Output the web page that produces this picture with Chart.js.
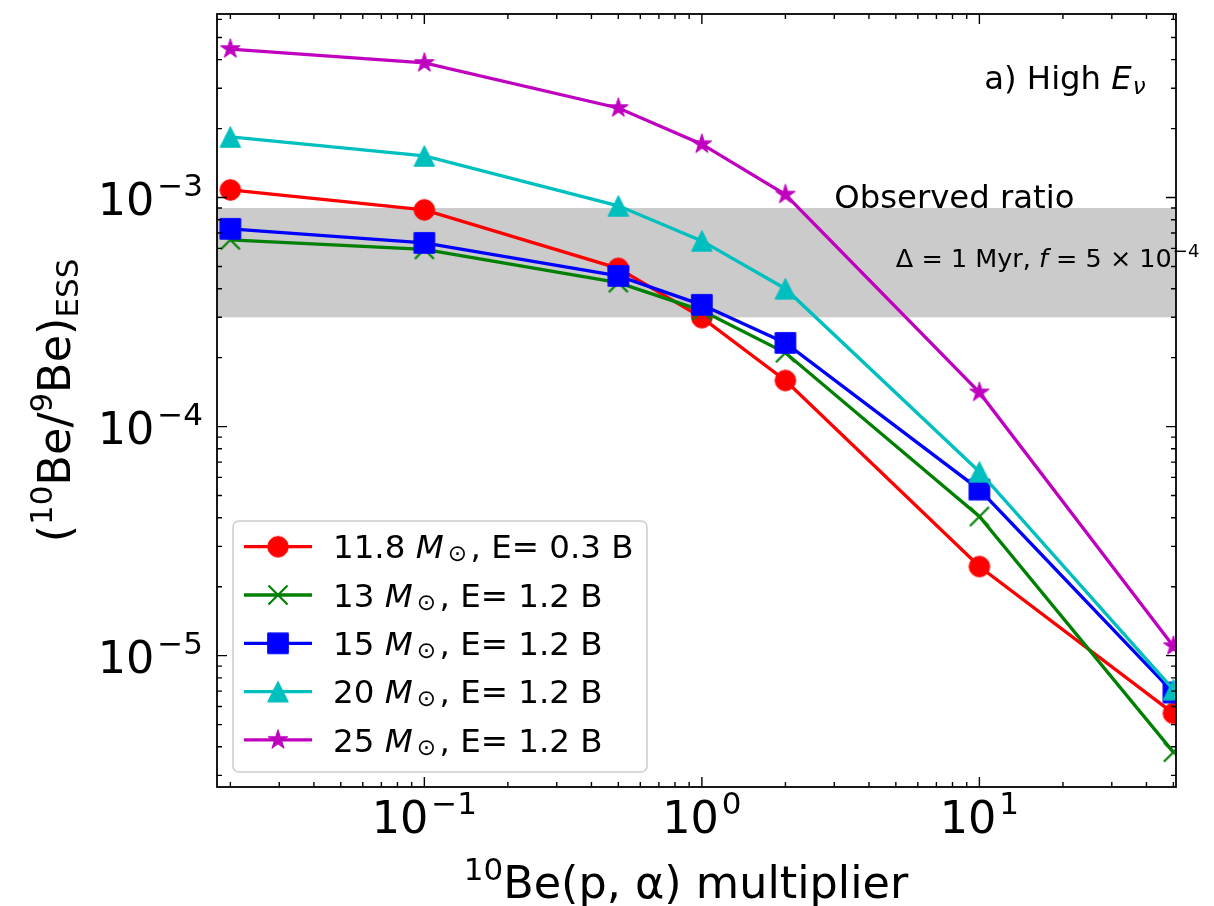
<!DOCTYPE html>
<html>
<head>
<meta charset="utf-8">
<script src="https://cdn.jsdelivr.net/npm/chart.js@4.4.0/dist/chart.umd.min.js"></script>
<style>
  body { margin: 0; background: #fff; }
  canvas { display: block; }
</style>
</head>
<body>
<canvas id="myChart" width="1214" height="906"></canvas>
<script>
// 10Be(p,alpha) rate multipliers (x) and resulting 10Be/9Be ratios per model
const multipliers = [0.02, 0.1, 0.5, 1, 2, 10, 50];
const ratio118 = [1.08e-3, 8.84e-4, 4.91e-4, 2.99e-4, 1.59e-4, 2.45e-5, 5.6e-6];
const ratio13 = [6.54e-4, 5.94e-4, 4.25e-4, 3.21e-4, 2.10e-4, 4.05e-5, 3.79e-6];
const ratio15 = [7.30e-4, 6.34e-4, 4.55e-4, 3.40e-4, 2.32e-4, 5.31e-5, 6.9e-6];
const ratio20 = [1.84e-3, 1.52e-3, 9.20e-4, 6.47e-4, 4.00e-4, 6.35e-5, 7.1e-6];
const ratio25 = [4.45e-3, 3.87e-3, 2.46e-3, 1.71e-3, 1.03e-3, 1.41e-4, 1.10e-5];

const massLabels = ["11.8", "13", "15", "20", "25"];
const energyLabels = ["0.3", "1.2", "1.2", "1.2", "1.2"];
const observedRange = [3e-4, 9e-4];
const xTickPowers = [-1, 0, 1];
const yTickPowers = [-5, -4, -3];

const seriesColors = ["#ff0000", "#008000", "#0000ff", "#00bfbf", "#bf00bf"];
const markerKinds = ["circle", "x", "square", "triangle", "star"];
const allSeries = [ratio118, ratio13, ratio15, ratio20, ratio25];

const FONT = '"DejaVu Sans", sans-serif';

// matplotlib-like markers drawn on small canvases
function makeMarker(kind, color) {
  const c = document.createElement("canvas");
  c.width = 30; c.height = 30;
  const g = c.getContext("2d");
  g.translate(15, 15);
  g.fillStyle = color;
  g.strokeStyle = color;
  g.lineWidth = 1;
  const r = 10.3;
  g.beginPath();
  if (kind === "circle") {
    g.arc(0, 0, r, 0, Math.PI * 2);
  } else if (kind === "square") {
    g.rect(-r, -r, 2 * r, 2 * r);
  } else if (kind === "triangle") {
    g.moveTo(0, -r); g.lineTo(-r, r); g.lineTo(r, r); g.closePath();
  } else if (kind === "star") {
    for (let i = 0; i < 10; i++) {
      const rad = i % 2 === 0 ? r : r * 0.381966;
      const a = -Math.PI / 2 + i * Math.PI / 5;
      const px = Math.cos(a) * rad, py = Math.sin(a) * rad;
      if (i === 0) g.moveTo(px, py); else g.lineTo(px, py);
    }
    g.closePath();
  }
  if (kind === "x") {
    g.lineWidth = 2.2;
    const h = 9.5;
    g.moveTo(-h, -h); g.lineTo(h, h);
    g.moveTo(-h, h); g.lineTo(h, -h);
    g.stroke();
  } else {
    g.fill();
    g.stroke();
  }
  return c;
}

const markers = markerKinds.map((k, i) => makeMarker(k, seriesColors[i]));

// rich text: parts = [{t, s, dy, it, gap}]
function richText(ctx, parts, x, y, align) {
  let w = 0;
  parts.forEach(p => {
    ctx.font = (p.it ? "italic " : "") + p.s + "px " + FONT;
    p.w = ctx.measureText(p.t).width;
    w += p.w + (p.gap || 0);
  });
  let cx = align === "right" ? x - w : align === "center" ? x - w / 2 : x;
  ctx.textAlign = "left";
  ctx.textBaseline = "alphabetic";
  parts.forEach(p => {
    cx += p.gap || 0;
    ctx.font = (p.it ? "italic " : "") + p.s + "px " + FONT;
    ctx.fillText(p.t, cx, y + (p.dy || 0));
    cx += p.w;
  });
}

function logTicks(min, max) {
  const major = [], minor = [];
  for (let k = Math.floor(Math.log10(min)); k <= Math.ceil(Math.log10(max)); k++) {
    for (let m = 1; m <= 9; m++) {
      const v = m * Math.pow(10, k);
      if (v < min * 0.9999 || v > max * 1.0001) continue;
      (m === 1 ? major : minor).push(v);
    }
  }
  return { major, minor };
}

const paperPlugin = {
  id: "paper",
  beforeDatasetsDraw(chart) {
    const { ctx, chartArea: ca, scales } = chart;
    const y1 = scales.y.getPixelForValue(observedRange[1]);
    const y0 = scales.y.getPixelForValue(observedRange[0]);
    ctx.save();
    ctx.fillStyle = "#cbcbcb";
    ctx.fillRect(ca.left, y1, ca.right - ca.left, y0 - y1);
    ctx.restore();
  },
  afterDatasetsDraw(chart) {
    const { ctx, chartArea: ca, scales } = chart;
    const xs = scales.x, ys = scales.y;
    ctx.save();
    ctx.fillStyle = "#000";

    // annotations
    richText(ctx, [{ t: "Observed ratio", s: 32.3 }],
      xs.getPixelForValue(3), ys.getPixelForValue(9e-4), "left");
    richText(ctx, [
      { t: "Δ = 1 Myr, ", s: 25.5 },
      { t: "f", s: 25.5, it: true },
      { t: " = 5 × 10", s: 25.5 },
      { t: "−4", s: 18, dy: -10, gap: 1 }
    ], xs.getPixelForValue(5), ys.getPixelForValue(5e-4), "left");
    richText(ctx, [
      { t: "a) High ", s: 32.3 },
      { t: "E", s: 32.3, it: true },
      { t: "ν", s: 23, it: true, dy: 5, gap: 1 }
    ], ca.left + 0.8 * (ca.right - ca.left), ca.top + 0.0975 * (ca.bottom - ca.top), "left");

    // frame
    ctx.strokeStyle = "#000";
    ctx.lineWidth = 1.8;
    ctx.strokeRect(ca.left, ca.top, ca.right - ca.left, ca.bottom - ca.top);

    // inward ticks on all four sides
    ctx.lineWidth = 1.4;
    const xt = logTicks(xs.min, xs.max), yt = logTicks(ys.min, ys.max);
    ctx.beginPath();
    [[xt.major, 10], [xt.minor, 5]].forEach(([vals, len]) => vals.forEach(v => {
      const px = xs.getPixelForValue(v);
      ctx.moveTo(px, ca.bottom); ctx.lineTo(px, ca.bottom - len);
      ctx.moveTo(px, ca.top); ctx.lineTo(px, ca.top + len);
    }));
    [[yt.major, 10], [yt.minor, 5]].forEach(([vals, len]) => vals.forEach(v => {
      const py = ys.getPixelForValue(v);
      ctx.moveTo(ca.left, py); ctx.lineTo(ca.left + len, py);
      ctx.moveTo(ca.right, py); ctx.lineTo(ca.right - len, py);
    }));
    ctx.stroke();

    // tick labels
    xTickPowers.forEach(p => {
      richText(ctx, [
        { t: "10", s: 44.5 },
        { t: (p < 0 ? "−" : "") + Math.abs(p), s: 31, dy: -19, gap: 3 }
      ], xs.getPixelForValue(Math.pow(10, p)), ca.bottom + 46, "center");
    });
    yTickPowers.forEach(p => {
      richText(ctx, [
        { t: "10", s: 44.5 },
        { t: "−" + Math.abs(p), s: 31, dy: -19, gap: 3 }
      ], ca.left - 14, ys.getPixelForValue(Math.pow(10, p)) + 17, "right");
    });

    // axis titles
    richText(ctx, [
      { t: "10", s: 31, dy: -18 },
      { t: "Be(p, α) multiplier", s: 44.5 }
    ], 686, 898, "center");

    ctx.save();
    ctx.translate(70, (ca.top + ca.bottom) / 2);
    ctx.rotate(-Math.PI / 2);
    richText(ctx, [
      { t: "(", s: 44.5 },
      { t: "10", s: 31, dy: -18 },
      { t: "Be/", s: 44.5 },
      { t: "9", s: 31, dy: -18 },
      { t: "Be)", s: 44.5 },
      { t: "ESS", s: 31, dy: 8 }
    ], 0, 0, "center");
    ctx.restore();

    // legend
    const lx = 233, ly = 521, lw = 414, lh = 251;
    ctx.beginPath();
    ctx.roundRect(lx, ly, lw, lh, 6);
    ctx.fillStyle = "rgba(255,255,255,0.8)";
    ctx.fill();
    ctx.strokeStyle = "#cccccc";
    ctx.lineWidth = 1.5;
    ctx.stroke();
    massLabels.forEach((m, i) => {
      const cy = 546.7 + i * 48.3;
      ctx.strokeStyle = seriesColors[i];
      ctx.lineWidth = 3.3;
      ctx.beginPath();
      ctx.moveTo(244, cy); ctx.lineTo(312, cy);
      ctx.stroke();
      ctx.drawImage(markers[i], 278 - 15, cy - 15);
      ctx.fillStyle = "#000";
      richText(ctx, [
        { t: m + " ", s: 32.5 },
        { t: "M", s: 32.5, it: true },
        { t: "⊙", s: 23, dy: 3, gap: 4 },
        { t: ", E= " + energyLabels[i] + " B", s: 32.5, gap: 3.5 }
      ], 333, cy + 11.6, "left");
    });
    ctx.restore();
  }
};

const datasets = allSeries.map((vals, i) => ({
  label: massLabels[i],
  data: multipliers.map((x, j) => ({ x: x, y: vals[j] })),
  showLine: true,
  borderColor: seriesColors[i],
  backgroundColor: seriesColors[i],
  borderWidth: 3.3,
  pointStyle: markers[i],
  pointRadius: 10,
  order: allSeries.length - i
}));

var ctx = document.getElementById("myChart").getContext("2d");
var myChart = new Chart(ctx, {
  type: "scatter",
  data: { datasets: datasets },
  options: {
    responsive: false,
    animation: false,
    events: [],
    layout: { padding: { left: 217, top: 14, right: 38, bottom: 119 } },
    scales: {
      x: { type: "logarithmic", min: 0.0179, max: 51.1, display: false },
      y: { type: "logarithmic", min: 2.67e-6, max: 6.33e-3, display: false }
    },
    plugins: { legend: { display: false }, tooltip: { enabled: false } }
  },
  plugins: [paperPlugin]
});
</script>
</body>
</html>
